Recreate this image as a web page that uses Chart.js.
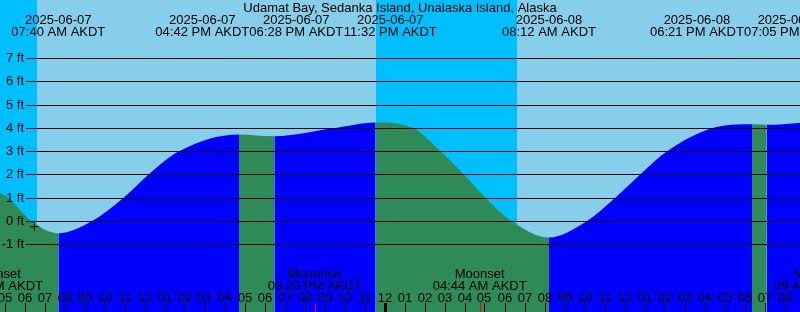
<!DOCTYPE html>
<html lang="en">
<head>
<meta charset="UTF-8">
<title>Udamat Bay tides</title>
<script src="https://cdn.jsdelivr.net/npm/chart.js"></script>
<style>
  body { margin: 0; background: #87ceeb; }
  #wrap { width: 800px; height: 312px; }
</style>
</head>
<body>
<div id="wrap"><canvas id="tideChart" width="800" height="312"></canvas></div>
<script>
// tide curve, feet, AKDT ('MM-DD HH:MM', year 2025)
const curveTimes = ['06-07 04:45', '06-07 05:10', '06-07 06:20', '06-07 07:40', '06-07 09:20', '06-07 10:55',
  '06-07 12:10', '06-07 13:40', '06-07 16:42', '06-07 18:28', '06-07 21:25', '06-07 23:32',
  '06-08 01:25', '06-08 02:47', '06-08 03:58', '06-08 05:02', '06-08 06:20', '06-08 08:12',
  '06-08 10:05', '06-08 11:30', '06-08 12:45', '06-08 14:05', '06-08 16:20', '06-08 18:21',
  '06-08 19:05', '06-08 20:45', '06-08 23:27'];
const curveFeet = [1.22, 1.0, 0.0, -0.52, 0.0, 1.0,
  2.0, 3.0, 3.74, 3.66, 4.0, 4.25,
  4.0, 3.0, 2.0, 1.0, 0.0, -0.70,
  0.0, 1.0, 2.0, 3.0, 4.0, 4.18,
  4.15, 4.23, 4.35];

// high / low tides that get a label at the top
const tideEventTimes = ['06-07 07:40', '06-07 16:42', '06-07 18:28', '06-07 23:32',
  '06-08 08:12', '06-08 18:21', '06-08 19:05', '06-08 23:27'];

// moon rise / set, labelled at the bottom
const moonTimes = ['06-07 04:33', '06-07 20:29', '06-08 04:44', '06-08 21:49'];
const moonKinds = ['Moonset', 'Moonrise', 'Moonset', 'Moonrise'];

// night (sunset -> sunrise)
const nightStarts = ['06-06 23:31', '06-07 23:33'];
const nightEnds = ['06-07 06:35', '06-08 06:35'];

// "+" mark on the curve
const nowTime = '06-07 06:28';
const nowFeet = -0.23;

const feetTicks = [-1, 0, 1, 2, 3, 4, 5, 6, 7];
const title = 'Udamat Bay, Sedanka Island, Unalaska Island, Alaska';

const DAY = '#87ceeb', NIGHT = '#00bfff', FLOOD = '#0000ff', EBB = '#2e8b57';
const FONT = '13px "Liberation Sans", Arial, sans-serif';

// hours since 2025-06-07 00:00
function toHours(s) {
  const [md, hm] = s.split(' ');
  const d = Number(md.split('-')[1]);
  const [h, m] = hm.split(':').map(Number);
  return (d - 7) * 24 + h + m / 60;
}
function pad(n) { return String(n).padStart(2, '0'); }
function clock(s) {
  let [h, m] = s.split(' ')[1].split(':').map(Number);
  const ap = h < 12 ? 'AM' : 'PM';
  h = h % 12 || 12;
  return pad(h) + ':' + pad(m) + ' ' + ap + ' AKDT';
}
function dateOf(s) { return '2025-' + s.split(' ')[0]; }

// push overlapping labels apart: overlapping ones become a block centred on their wanted spots
function packLabels(wanted, width) {
  let blocks = wanted.map(c => ({ n: 1, sum: c }));
  let merged = true;
  while (merged) {
    merged = false;
    for (let i = 0; i < blocks.length - 1; i++) {
      const a = blocks[i], b = blocks[i + 1];
      const aStart = a.sum / a.n, bStart = b.sum / b.n;
      if (aStart + a.n * width > bStart + 0.01) {
        blocks.splice(i, 2, { n: a.n + b.n, sum: a.sum + b.sum - b.n * a.n * width });
        merged = true;
        break;
      }
    }
  }
  const out = [];
  blocks.forEach(b => { for (let k = 0; k < b.n; k++) out.push(b.sum / b.n + k * width); });
  return out;
}

const skyPlugin = {
  id: 'sky',
  beforeDatasetsDraw(chart) {
    const { ctx, chartArea: a, scales: { x } } = chart;
    ctx.save();
    ctx.fillStyle = DAY;
    ctx.fillRect(a.left, a.top, a.right - a.left, a.bottom - a.top);
    ctx.fillStyle = NIGHT;
    nightStarts.forEach((s, i) => {
      const x0 = Math.max(a.left, Math.round(x.getPixelForValue(toHours(s))));
      const x1 = Math.min(a.right, Math.round(x.getPixelForValue(toHours(nightEnds[i]))));
      if (x1 > x0) ctx.fillRect(x0, a.top, x1 - x0, a.bottom - a.top);
    });
    ctx.restore();
  }
};

const textPlugin = {
  id: 'texts',
  afterDatasetsDraw(chart) {
    const { ctx, chartArea: a, scales: { x, y } } = chart;
    ctx.save();
    ctx.font = FONT;
    ctx.fillStyle = '#000';
    ctx.strokeStyle = '#000';
    ctx.lineWidth = 1;

    // level lines and labels
    ctx.textAlign = 'right';
    feetTicks.forEach(v => {
      const row = Math.floor(y.getPixelForValue(v));
      ctx.beginPath();
      ctx.moveTo(26, row + 0.5);
      ctx.lineTo(a.right, row + 0.5);
      ctx.stroke();
      ctx.fillText(v + ' ft', 24, row + 4);
    });

    // title
    ctx.textAlign = 'center';
    ctx.fillText(title, 400, 12);

    // tide events
    const w = Math.ceil(Math.max(ctx.measureText('2025-06-07').width, ctx.measureText('07:40 PM AKDT').width));
    const centers = packLabels(tideEventTimes.map(t => x.getPixelForValue(toHours(t))), w);
    tideEventTimes.forEach((t, i) => {
      ctx.fillText(dateOf(t), centers[i], 24);
      ctx.fillText(clock(t), centers[i], 36);
    });

    // moon events
    moonTimes.forEach((t, i) => {
      const px = x.getPixelForValue(toHours(t));
      ctx.fillText(moonKinds[i], px, 278);
      ctx.fillText(clock(t), px, 290);
      ctx.fillStyle = '#ff0000';
      ctx.fillRect(Math.round(px), 303, 1, 9);
      ctx.fillStyle = '#000';
    });

    // hour ticks
    for (let h = Math.ceil(x.min); h <= Math.floor(x.max); h++) {
      const px = Math.floor(x.getPixelForValue(h));
      const hod = ((h % 24) + 24) % 24;
      ctx.fillText(pad(hod % 12 || 12), px, 302);
      if (hod === 0) ctx.fillRect(px - 1, 303, 3, 9);
      else ctx.fillRect(px, 303, 1, 9);
    }
    ctx.restore();
  }
};

new Chart(document.getElementById('tideChart'), {
  type: 'line',
  data: {
    datasets: [
      {
        type: 'scatter',
        data: [{ x: toHours(nowTime), y: nowFeet }],
        pointStyle: 'cross',
        pointRadius: 4.5,
        borderColor: '#000',
        backgroundColor: '#000',
        borderWidth: 1,
        fill: false
      },
      {
        data: curveTimes.map((t, i) => ({ x: toHours(t), y: curveFeet[i] })),
        fill: 'start',
        backgroundColor: FLOOD,
        borderColor: 'rgba(0,0,0,0)',
        borderWidth: 0,
        pointRadius: 0,
        cubicInterpolationMode: 'monotone',
        segment: {
          backgroundColor: c => c.p1.parsed.y >= c.p0.parsed.y ? FLOOD : EBB
        }
      }
    ]
  },
  options: {
    responsive: false,
    animation: false,
    devicePixelRatio: 1,
    layout: { padding: 0, autoPadding: false },
    plugins: { legend: { display: false }, tooltip: { enabled: false } },
    scales: {
      x: { type: 'linear', min: 4.75, max: 44.75, display: false },
      y: { min: -3.9, max: 9.52, display: false }
    }
  },
  plugins: [skyPlugin, textPlugin]
});
</script>
</body>
</html>
